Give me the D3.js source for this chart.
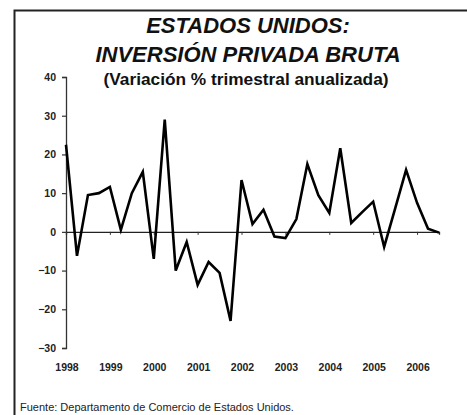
<!DOCTYPE html>
<html lang="es">
<head>
  <meta charset="UTF-8">
  <title>Estados Unidos: Inversión privada bruta</title>
  <script src="https://d3js.org/d3.v7.min.js"></script>
  <style>
    body { margin: 0; background: #fff; font-family: Arial, "Liberation Sans", sans-serif; }
  </style>
</head>
<body>
<div id="chart"></div>
<script>
// quarterly data, 1998 Q1 .. 2006 Q3
var quarters = ["1998Q1","1998Q2","1998Q3","1998Q4","1999Q1","1999Q2","1999Q3","1999Q4",
  "2000Q1","2000Q2","2000Q3","2000Q4","2001Q1","2001Q2","2001Q3","2001Q4",
  "2002Q1","2002Q2","2002Q3","2002Q4","2003Q1","2003Q2","2003Q3","2003Q4",
  "2004Q1","2004Q2","2004Q3","2004Q4","2005Q1","2005Q2","2005Q3","2005Q4",
  "2006Q1","2006Q2","2006Q3"];
var values = [22.5, -6.2, 9.5, 10, 11.6, 0.5, 10, 15.5,
  -7, 29, -10, -2.6, -13.7, -7.8, -10.6, -23,
  13.4, 2, 5.7, -1.2, -1.6, 3.3, 17.5, 9.5,
  4.9, 21.6, 2.3, 5.1, 7.8, -3.9, 6, 16,
  7.5, 0.8, -0.2];
var yTicks = [-30, -20, -10, 0, 10, 20, 30, 40];
var yearLabels = ["1998","1999","2000","2001","2002","2003","2004","2005","2006"];

var width = 467, height = 415;

var svg = d3.select("#chart").append("svg")
  .attr("width", width)
  .attr("height", height);

// frame (top and left only, as in the scan)
svg.append("path")
  .attr("d", "M14.5,415 L14.5,10.5 L467,10.5")
  .attr("fill", "none")
  .attr("stroke", "#222")
  .attr("stroke-width", 2);

// titles
svg.append("text")
  .attr("x", 248).attr("y", 33)
  .attr("text-anchor", "middle")
  .attr("font-size", 22).attr("font-weight", "bold").attr("font-style", "italic")
  .attr("fill", "#111")
  .text("ESTADOS UNIDOS:");
svg.append("text")
  .attr("x", 248).attr("y", 62)
  .attr("text-anchor", "middle")
  .attr("font-size", 22).attr("font-weight", "bold").attr("font-style", "italic")
  .attr("fill", "#111")
  .text("INVERSIÓN PRIVADA BRUTA");
svg.append("text")
  .attr("x", 246).attr("y", 85)
  .attr("text-anchor", "middle")
  .attr("font-size", 16).attr("font-weight", "bold")
  .attr("textLength", 285).attr("lengthAdjust", "spacingAndGlyphs")
  .attr("fill", "#111")
  .text("(Variación % trimestral anualizada)");

// scales
var xScale = d3.scaleLinear()
  .domain([0, quarters.length - 1])
  .range([66, 439]);
var yScale = d3.scaleLinear()
  .domain([-30, 40])
  .range([348, 77]);

// y axis
var yAxis = d3.axisLeft(yScale)
  .tickValues(yTicks)
  .tickSize(4)
  .tickPadding(6);
var gy = svg.append("g")
  .attr("transform", "translate(66,0)")
  .call(yAxis);
gy.select(".domain").attr("stroke", "#333").attr("stroke-width", 1.3);
gy.selectAll(".tick line").attr("stroke", "#333").attr("stroke-width", 1.2);
gy.selectAll(".tick text")
  .attr("font-family", "Arial, 'Liberation Sans', sans-serif")
  .attr("font-size", 10.5).attr("font-weight", "bold")
  .attr("fill", "#222");

// x axis on zero line, ticks at start of each year
var yearIdx = yearLabels.map(function(d, i){ return i * 4; });
var xAxis = d3.axisBottom(xScale)
  .tickValues(yearIdx)
  .tickSize(3)
  .tickFormat("");
var gx = svg.append("g")
  .attr("transform", "translate(0," + yScale(0) + ")")
  .call(xAxis);
gx.select(".domain").attr("stroke", "#222").attr("stroke-width", 1.3);
gx.selectAll(".tick line").attr("stroke", "#333");

// year labels below the chart
svg.append("g").selectAll("text")
  .data(yearLabels)
  .enter().append("text")
    .attr("x", function(d, i){ return xScale(i * 4) + 1; })
    .attr("y", 371)
    .attr("text-anchor", "middle")
    .attr("font-size", 10.5).attr("font-weight", "bold")
    .attr("fill", "#222")
    .text(function(d){ return d; });

// series line
var line = d3.line()
  .x(function(d, i){ return xScale(i); })
  .y(function(d){ return yScale(d); });
svg.append("path")
  .datum(values)
  .attr("d", line)
  .attr("fill", "none")
  .attr("stroke", "#000")
  .attr("stroke-width", 2.6)
  .attr("stroke-linejoin", "miter");

// source note at the bottom edge
svg.append("text")
  .attr("x", 20).attr("y", 411)
  .attr("font-size", 11)
  .attr("fill", "#222")
  .text("Fuente: Departamento de Comercio de Estados Unidos.");
</script>
</body>
</html>
